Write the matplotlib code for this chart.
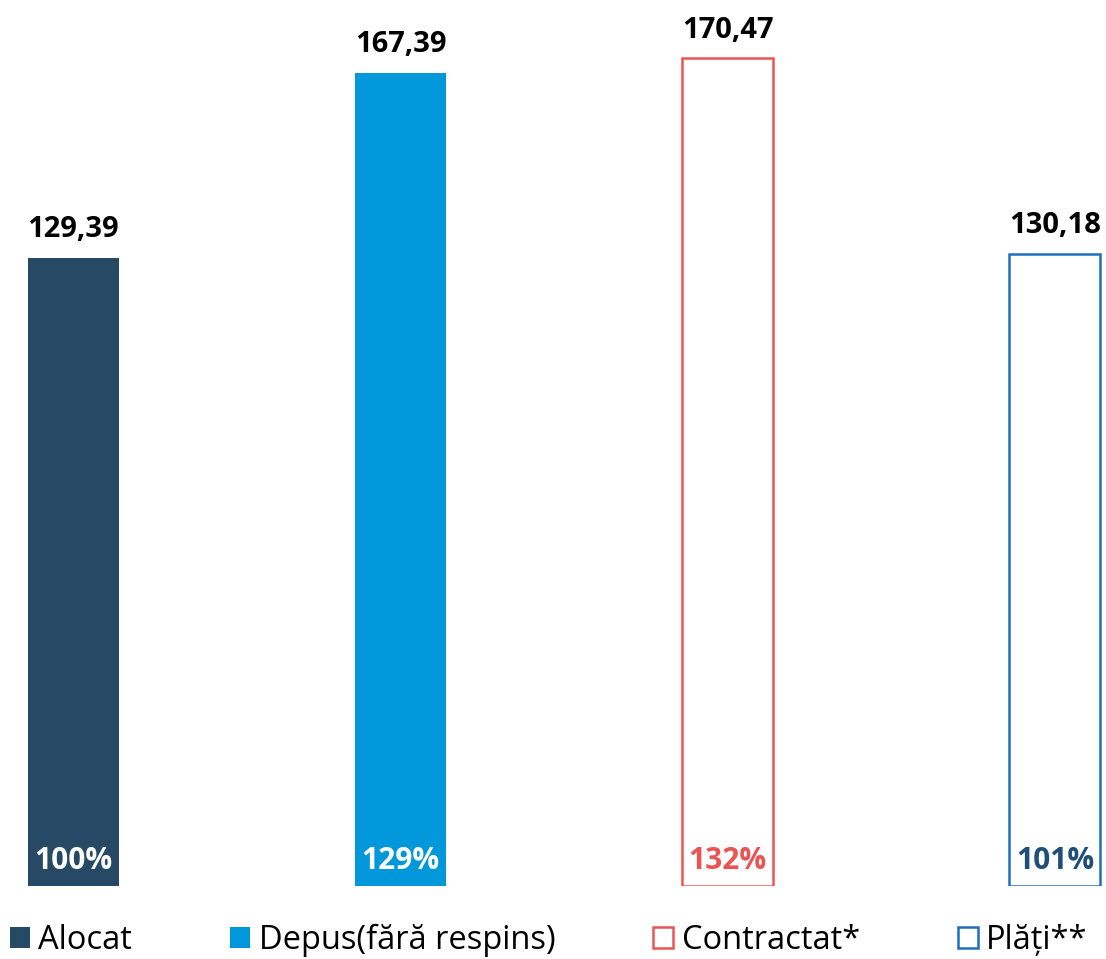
import numpy as np
import matplotlib.pyplot as plt
from matplotlib.patches import Patch

plt.rcParams['font.family'] = ['Open Sans', 'DejaVu Sans']

categories = ["Alocat", "Depus(fără respins)", "Contractat*", "Plăți**"]
values = [129.39, 167.39, 170.47, 130.18]
value_labels = ["129,39", "167,39", "170,47", "130,18"]
pct_labels = ["100%", "129%", "132%", "101%"]

fills = ["#264a66", "#0098da", "white", "white"]
edges = ["#264a66", "#0098da", "#ea5455", "#1f6fbf"]
pct_colors = ["white", "white", "#ea5455", "#1f4e79"]

W, H = 1106, 959
fig = plt.figure(figsize=(W / 100, H / 100), dpi=100)
ax = fig.add_axes([0, (H - 886) / H, 1, 886 / H])

x = np.arange(len(categories))
bars = ax.bar(x, values, width=0.278, color=fills, edgecolor=edges,
              linewidth=[0, 0, 1.8, 1.8])

for b, v, lab, pl, pc in zip(bars, values, value_labels, pct_labels, pct_colors):
    cx = b.get_x() + b.get_width() / 2
    ax.annotate(lab, (cx, v), xytext=(0, 10), textcoords="offset points",
                ha="center", va="bottom", fontsize=21, fontweight="bold", color="black")
    ax.annotate(pl, (cx, 0), xytext=(0, 7.5), textcoords="offset points",
                ha="center", va="bottom", fontsize=21.5, fontweight="bold", color=pc)

ax.set_xlim(-0.2246, 3.156)
ax.set_ylim(0, 182.5)
ax.axis("off")

handles = [Patch(facecolor=f, edgecolor=e, linewidth=1.8 if f == "white" else 0)
           for f, e in zip(fills, edges)]
fig.legend(handles, categories, loc="lower left", bbox_to_anchor=(10 / W, 0.002),
           ncol=4, frameon=False, fontsize=23.5, handlelength=0.62, handleheight=0.62,
           handletextpad=0.25, columnspacing=3.0, borderpad=0, borderaxespad=0)

fig.savefig("out.png", dpi=100)
